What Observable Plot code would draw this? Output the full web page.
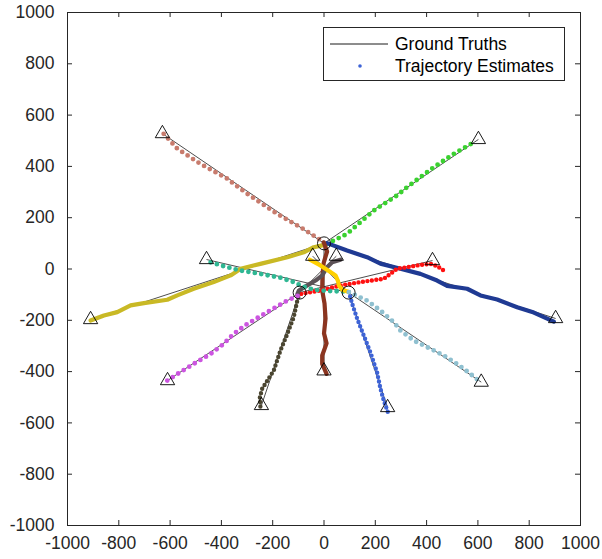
<!DOCTYPE html>
<html>
<head>
<meta charset="utf-8">
<script src="https://cdn.jsdelivr.net/npm/d3@7"></script>
<script src="https://cdn.jsdelivr.net/npm/@observablehq/plot@0.6"></script>
<style>
  html, body { margin: 0; padding: 0; background: #fff; }
  #wrap { position: relative; width: 602px; height: 559px; font-family: "Liberation Sans", Arial, sans-serif; }
  #legend { position: absolute; left: 0; top: 0; pointer-events: none; }
</style>
</head>
<body>
<div id="wrap"></div>
<script>
// ---- axis ticks ----
const xTicks = [-1000, -800, -600, -400, -200, 0, 200, 400, 600, 800, 1000];
const yTicks = [-1000, -800, -600, -400, -200, 0, 200, 400, 600, 800, 1000];

// ---- ground-truth start points (triangles) ----
const targetNames = ["pink", "green", "darkBlue", "olive", "brown", "red", "gray", "darkOlive", "magenta", "teal", "gold", "blue", "lightBlue"];
const startX = [-630, 602, 903, -910, 0, 423, 48, -244, -610, -458, -44, 248, 613];
const startY = [528, 505, -193, -197, -397, 33, 50, -532, -435, 37, 50, -540, -441];
// ---- ground-truth end points (circles) ----
const endX = [0, -95, 96];
const endY = [100, -92, -92];
const targetEnd = [0, 0, 0, 0, 0, 1, 1, 1, 1, 2, 2, 2, 2];

// ---- estimated trajectories ----
const pinkTrack = [[-625,527],[-572,469],[-482,410],[-377,352],[-352,332],[-299,293],[-183,215],[-92,163],[-1,105]];
const greenTrack = [[12,98],[90,137],[194,228],[285,287],[324,319],[428,397],[506,449],[584,494]];
const darkBlueTrack = [[12,101],[90,72],[168,46],[220,21],[298,1],[376,-19],[441,-45],[480,-66],[558,-77],[610,-103],[675,-119],[753,-149],[818,-170],[896,-205]];
const oliveTrack = [[-910,-201],[-858,-181],[-806,-168],[-754,-142],[-702,-133],[-611,-120],[-572,-103],[-508,-77],[-430,-51],[-364,-25],[-325,1],[-248,20],[-143,46],[-79,65],[-40,85],[-7,92]];
const brownTrack = [[10,-409],[-7,-370],[-7,-337],[10,-290],[0,-251],[6,-193],[2,-134],[-7,-84],[-6,-25],[-1,25],[12,68],[-1,104]];
const redTrack = [[-89,-97],[-14,-84],[64,-64],[142,-51],[233,-38],[259,-19],[285,1],[324,7],[376,16],[415,20],[441,11],[467,-6]];
const grayTrack = [[64,36],[32,26],[12,7],[-7,-25],[-33,-45],[-65,-64],[-98,-84],[-104,-99]];
const darkOliveTrack = [[-248,-536],[-250,-500],[-241,-467],[-221,-435],[-196,-396],[-170,-318],[-143,-253],[-118,-188],[-104,-123],[-98,-103]];
const magentaTrack = [[-611,-435],[-560,-402],[-508,-370],[-442,-331],[-391,-292],[-353,-253],[-299,-214],[-221,-168],[-143,-123],[-98,-103]];
const tealTrack = [[-442,26],[-377,7],[-325,-6],[-248,-19],[-170,-34],[-118,-51],[-92,-64],[-40,-81],[25,-86],[90,-88]];
const goldTrack = [[-55,36],[-14,14],[25,-12],[45,-25],[54,-45],[58,-64],[71,-81],[97,-90]];
const blueTrack = [[97,-90],[110,-136],[129,-193],[155,-259],[181,-325],[207,-403],[220,-466],[233,-513],[249,-558]];
const lightBlueTrack = [[97,-90],[168,-123],[220,-162],[272,-207],[298,-240],[350,-279],[415,-311],[467,-337],[519,-370],[571,-409],[610,-441]];

const tracks = [pinkTrack, greenTrack, darkBlueTrack, oliveTrack, brownTrack, redTrack, grayTrack, darkOliveTrack, magentaTrack, tealTrack, goldTrack, blueTrack, lightBlueTrack];
const trackColors = ["#c87b6d", "#3ad12f", "#1f3a93", "#c9b925", "#8b3520", "#ff1010", "#5c5257", "#4a4530", "#cc55e0", "#2fb793", "#ffd000", "#3d63d6", "#8fc0d0"];
// "dots" = spaced markers, "dense" = closely packed markers, "solid" = overlapping markers
const trackStyle = ["dots", "dots", "solid", "solid", "solid", "dense", "solid", "dense", "dots", "dots", "solid", "dense", "dots"];

// ---- build tables ----
const starts = targetNames.map((n, i) => ({name: n, x: startX[i], y: startY[i]}));
const ends = endX.map((x, i) => ({x, y: endY[i]}));
const truthSegs = targetNames.map((n, i) => ({x1: startX[i], y1: startY[i], x2: endX[targetEnd[i]], y2: endY[targetEnd[i]]}));

const axisColor = "#262626";
const W = 602, H = 559, mL = 67, mR = 22, mT = 12, mB = 34;
const frameH = H - mT - mB, frameW = W - mL - mR;
const tickLen = 5;

const trackMarks = tracks.map((t, i) => {
  const st = trackStyle[i];
  const opts = {x: d => d[0], y: d => d[1], stroke: trackColors[i], strokeLinecap: "round", strokeLinejoin: "round"};
  if (st === "dots") Object.assign(opts, {strokeWidth: 4.8, strokeDasharray: "0 6.5"});
  else if (st === "dense") Object.assign(opts, {strokeWidth: 4.4, strokeDasharray: "0 4.5"});
  else Object.assign(opts, {strokeWidth: 4.2});
  return Plot.line(t, opts);
});

const chart = Plot.plot({
  width: W, height: H,
  marginLeft: mL, marginRight: mR, marginTop: mT, marginBottom: mB,
  x: {domain: [-1000, 1000]},
  y: {domain: [-1000, 1000]},
  style: {fontFamily: '"Liberation Sans", Arial, sans-serif', fontSize: "17.5px", color: axisColor, background: "white"},
  marks: [
    Plot.link(truthSegs, {x1: "x1", y1: "y1", x2: "x2", y2: "y2", stroke: "black", strokeWidth: 0.7}),
    ...trackMarks,
    Plot.dot(starts, {x: "x", y: "y", symbol: "triangle", r: 5.3, stroke: "black", strokeWidth: 0.9, fill: "none"}),
    Plot.dot(ends, {x: "x", y: "y", r: 6.5, stroke: "black", strokeWidth: 0.9, fill: "none"}),
    Plot.frame({stroke: axisColor, strokeWidth: 1}),
    Plot.ruleX(xTicks, {x: d => d, insetTop: frameH - tickLen, stroke: axisColor}),
    Plot.ruleX(xTicks, {x: d => d, insetBottom: frameH - tickLen, stroke: axisColor}),
    Plot.ruleY(yTicks, {y: d => d, insetRight: frameW - tickLen, stroke: axisColor}),
    Plot.ruleY(yTicks, {y: d => d, insetLeft: frameW - tickLen, stroke: axisColor}),
    Plot.axisX(xTicks, {anchor: "bottom", tickSize: 0, tickPadding: 11, label: null, fontSize: 17.5, tickFormat: d => String(d)}),
    Plot.axisY(yTicks, {anchor: "left", tickSize: 0, tickPadding: 13, label: null, fontSize: 17.5, tickFormat: d => String(d)})
  ]
});
document.getElementById("wrap").appendChild(chart);

// ---- legend ----
const legendItems = ["Ground Truths", "Trajectory Estimates"];
const ns = "http://www.w3.org/2000/svg";
const lg = document.createElementNS(ns, "svg");
lg.setAttribute("id", "legend");
lg.setAttribute("width", W);
lg.setAttribute("height", H);
lg.innerHTML = `
  <rect x="323.5" y="27.5" width="241" height="53" fill="white" stroke="${axisColor}" stroke-width="1"/>
  <line x1="330" x2="388" y1="44" y2="44" stroke="black" stroke-width="0.9"/>
  <circle cx="360" cy="66" r="1.8" fill="#3d63d6"/>
  <text x="395" y="44" dy="0.35em" font-size="17.5" fill="black" font-family='"Liberation Sans", Arial, sans-serif'>${legendItems[0]}</text>
  <text x="395" y="66" dy="0.35em" font-size="17.5" fill="black" font-family='"Liberation Sans", Arial, sans-serif'>${legendItems[1]}</text>`;
document.getElementById("wrap").appendChild(lg);
</script>
</body>
</html>
